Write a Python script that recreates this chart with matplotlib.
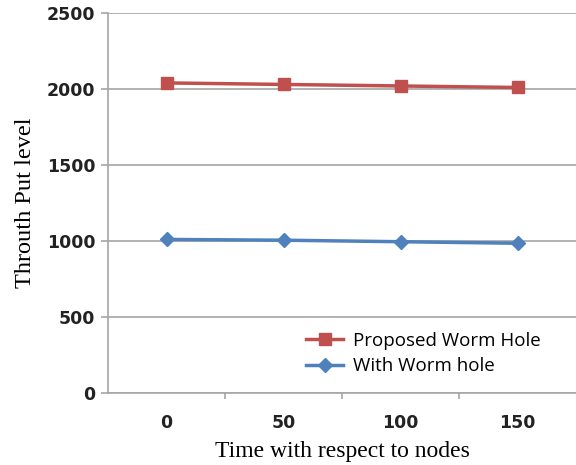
import matplotlib.pyplot as plt

# data
categories = ['0', '50', '100', '150']
proposed = [2040, 2030, 2020, 2010]
with_worm = [1010, 1005, 995, 985]
yticks = [0, 500, 1000, 1500, 2000, 2500]

fig = plt.figure(figsize=(5.76, 4.65), dpi=100)
ax = fig.add_axes([0.1875, 0.155, 0.8125, 0.817])

x = range(len(categories))
ax.plot(x, proposed, color='#C0504D', lw=2.5, marker='s', ms=9,
        label='Proposed Worm Hole', zorder=3)
ax.plot(x, with_worm, color='#4F81BD', lw=2.5, marker='D', ms=7,
        label='With Worm hole', zorder=3)

ax.set_xlim(-0.5, 3.5)
ax.set_ylim(0, 2500)
ax.set_yticks(yticks)
ax.set_xticks(list(x))
ax.set_xticklabels(categories)
ax.set_xticks([0.5, 1.5, 2.5], minor=True)

ax.grid(axis='y', color='#a6a6a6', lw=1.2, zorder=0)
for side in ['top', 'right']:
    ax.spines[side].set_visible(False)
for side in ['left', 'bottom']:
    ax.spines[side].set_color('#a6a6a6')
    ax.spines[side].set_linewidth(1.2)

ax.tick_params(axis='y', length=5, color='#a6a6a6', width=1.2, pad=4)
ax.tick_params(axis='x', which='major', length=0, pad=15)
ax.tick_params(axis='x', which='minor', length=4, color='#a6a6a6', width=1.2)
for lab in ax.get_xticklabels() + ax.get_yticklabels():
    lab.set_fontsize(12.5)
    lab.set_fontweight('bold')
    lab.set_color('#222222')

ax.set_xlabel('Time with respect to nodes', family='Liberation Serif',
              fontsize=17, labelpad=7)
ax.set_ylabel('Throuth Put level', family='Liberation Serif', fontsize=17.5,
              labelpad=8)

leg = ax.legend(loc='lower right', bbox_to_anchor=(0.94, 0.027), frameon=True,
                prop={'family': 'Open Sans', 'size': 13.5}, handlelength=2.0,
                handletextpad=0.5, borderaxespad=0, labelspacing=0.4)
leg.get_frame().set_edgecolor('none')
leg.get_frame().set_facecolor('white')
leg.get_frame().set_alpha(1)

fig.savefig('out.png', dpi=100)
